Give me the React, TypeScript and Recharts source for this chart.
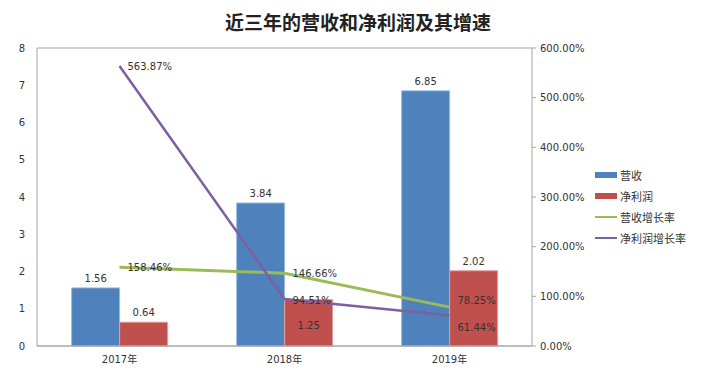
import React from 'react';
import { ComposedChart, Bar, Line, XAxis, YAxis, CartesianGrid, LabelList } from 'recharts';

const years = ['2017年', '2018年', '2019年'];
const revenue = [1.56, 3.84, 6.85];
const netProfit = [0.64, 1.25, 2.02];
const revenueGrowth = [158.46, 146.66, 78.25];
const profitGrowth = [563.87, 94.51, 61.44];
const leftTicks = [0, 1, 2, 3, 4, 5, 6, 7, 8];
const rightTicks = [0, 100, 200, 300, 400, 500, 600];

const data = years.map((year, i) => ({
  year,
  revenue: revenue[i],
  netProfit: netProfit[i],
  revenueGrowth: revenueGrowth[i],
  profitGrowth: profitGrowth[i],
}));

const FONT = '"DejaVu Sans", "Noto Sans CJK SC", sans-serif';
const TEXT = '#333';

const legendItems = [
  { name: '营收', color: '#4F81BD', kind: 'rect' },
  { name: '净利润', color: '#C0504D', kind: 'rect' },
  { name: '营收增长率', color: '#9BBB59', kind: 'line' },
  { name: '净利润增长率', color: '#7D60A0', kind: 'line' },
];

const barTopLabel = (props: any) => {
  const { x, y, width, value } = props;
  return (
    <text x={x + width / 2} y={y - 6} textAnchor="middle" fontSize={10} fill={TEXT} fontFamily={FONT}>
      {value}
    </text>
  );
};

const profitLabel = (props: any) => {
  const { x, y, width, value, index } = props;
  // 2018 label sits inside the bar in the original
  const ty = index === 1 ? y + 30 : y - 6;
  return (
    <text x={x + width / 2} y={ty} textAnchor="middle" fontSize={10} fill={TEXT} fontFamily={FONT}>
      {value}
    </text>
  );
};

const makeLineLabel = (shifts: number[]) => (props: any) => {
  const { x, y, value, index } = props;
  return (
    <text x={x + 8} y={y + shifts[index]} dominantBaseline="middle" fontSize={10} fill={TEXT} fontFamily={FONT}>
      {Number(value).toFixed(2)}%
    </text>
  );
};

export default function App() {
  return (
    <div style={{ position: 'absolute', left: 0, top: 0, width: 707, height: 382, background: '#fff' }}>
      <div
        style={{
          position: 'absolute',
          left: 0,
          top: 9,
          width: 716,
          textAlign: 'center',
          fontFamily: '"Noto Sans CJK SC", sans-serif',
          fontSize: 19,
          fontWeight: 700,
          color: '#222',
          lineHeight: '26px',
        }}
      >
        近三年的营收和净利润及其增速
      </div>
      <ComposedChart
        width={707}
        height={382}
        data={data}
        margin={{ top: 48, right: 115, bottom: 0, left: 0 }}
        barCategoryGap="21%"
        barGap={0}
      >
        <CartesianGrid vertical={false} stroke="#a6a6a6" />
        <XAxis
          dataKey="year"
          axisLine={{ stroke: '#a6a6a6' }}
          tickLine={false}
          tickSize={0}
          tickMargin={10}
          height={36}
          tick={{ fontSize: 10, fill: TEXT, fontFamily: FONT }}
        />
        <YAxis
          yAxisId="left"
          domain={[0, 8]}
          ticks={leftTicks}
          width={37}
          axisLine={{ stroke: '#a6a6a6' }}
          tickLine={false}
          tickSize={6}
          tickMargin={6}
          tick={{ fontSize: 10, fill: TEXT, fontFamily: FONT }}
        />
        <YAxis
          yAxisId="right"
          orientation="right"
          domain={[0, 600]}
          ticks={rightTicks}
          width={60}
          axisLine={{ stroke: '#a6a6a6' }}
          tickLine={{ stroke: '#a6a6a6' }}
          tickSize={4}
          tickMargin={4}
          tickFormatter={(v: number) => `${v.toFixed(2)}%`}
          tick={{ fontSize: 10, fill: TEXT, fontFamily: FONT }}
        />
        <Bar yAxisId="left" dataKey="revenue" fill="#4F81BD" stroke="#9cbbe0" strokeWidth={1} isAnimationActive={false}>
          <LabelList dataKey="revenue" content={barTopLabel} />
        </Bar>
        <Bar yAxisId="left" dataKey="netProfit" fill="#C0504D" stroke="#e0a09e" strokeWidth={1} isAnimationActive={false}>
          <LabelList dataKey="netProfit" content={profitLabel} />
        </Bar>
        <Line
          yAxisId="right"
          dataKey="revenueGrowth"
          stroke="#9BBB59"
          strokeWidth={3}
          dot={false}
          isAnimationActive={false}
        >
          <LabelList dataKey="revenueGrowth" content={makeLineLabel([1, 1, -6])} />
        </Line>
        <Line
          yAxisId="right"
          dataKey="profitGrowth"
          stroke="#7D60A0"
          strokeWidth={2.5}
          dot={false}
          isAnimationActive={false}
        >
          <LabelList dataKey="profitGrowth" content={makeLineLabel([1, 2, 13])} />
        </Line>
      </ComposedChart>
      <div style={{ position: 'absolute', left: 595, top: 164, fontFamily: '"Noto Sans CJK SC", sans-serif', fontSize: 11, color: TEXT }}>
        {legendItems.map((item) => (
          <div key={item.name} style={{ display: 'flex', alignItems: 'center', height: 21 }}>
            <div
              style={{
                width: 22,
                height: item.kind === 'rect' ? 6 : 2,
                background: item.color,
                marginRight: 3,
              }}
            />
            <span>{item.name}</span>
          </div>
        ))}
      </div>
    </div>
  );
}
